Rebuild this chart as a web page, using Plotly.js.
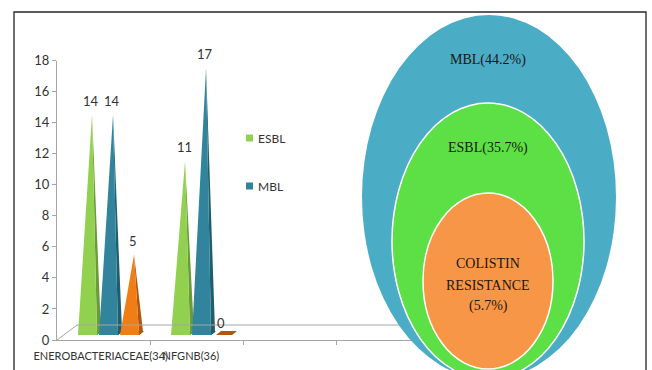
<!DOCTYPE html>
<html>
<head>
<meta charset="utf-8">
<script src="https://cdn.plot.ly/plotly-3.0.1.min.js"></script>
<style>html,body{margin:0;padding:0;background:#fff;}#chart{width:652px;height:370px;}</style>
</head>
<body>
<div id="chart"></div>
<script>
// ---- data ----
const categories = ["ENEROBACTERIACEAE(34)", "NFGNB(36)"];
const esbl = [14, 11];
const mbl = [14, 17];
const colistin = [5, 0];
const seriesNames = ["ESBL", "MBL", "COLISTIN"];
const yTicks = [0, 2, 4, 6, 8, 10, 12, 14, 16, 18];
const vennLabels = ["MBL(44.2%)", "ESBL(35.7%)", "COLISTIN<br>RESISTANCE<br>(5.7%)"];

// ---- styling ----
const W = 652, H = 370;
const X = px => px / W;
const Y = py => 1 - py / H;
const sansFont = "Lato, 'Open Sans', sans-serif";
const lightCol = ["#92D050", "#31849B", "#F07E14"];
const darkCol = ["#6A9B36", "#1F5E6F", "#B2560C"];
const ux = 1 / 93;          // axis units per pixel (x)
const uy = 18 / 279.5;      // axis units per pixel (y)
const slotOffset = [-0.274, -0.048, 0.178];
const base = 5 * uy, depth = 0.5;

const series = [esbl, mbl, colistin];
const traces = [];
const annotations = [];
series.forEach((vals, s) => {
  vals.forEach((v, c) => {
    const xL = c + slotOffset[s];
    const pk = [xL + 14 * ux, v + depth];
    // floor footprint
    traces.push({type: "scatter", mode: "lines", fill: "toself", fillcolor: darkCol[s], line: {width: 0},
      x: [xL + 3 * ux, xL + 19 * ux, xL + 24 * ux, xL + 8 * ux], y: [base, base, base + 4 * uy, base + 4 * uy],
      hoverinfo: "skip", showlegend: false});
    if (v > 0) {
      // side face
      traces.push({type: "scatter", mode: "lines", fill: "toself", fillcolor: darkCol[s], line: {width: 0},
        x: [pk[0], xL + 19 * ux, xL + 23 * ux], y: [pk[1], base, base + 3 * uy],
        hoverinfo: "skip", showlegend: false});
      // front face
      traces.push({type: "scatter", mode: "lines", fill: "toself", fillcolor: lightCol[s], line: {width: 0},
        x: [xL, pk[0], xL + 19 * ux], y: [base, pk[1], base],
        hoverinfo: "skip", showlegend: false});
    }
    // value label
    annotations.push({xref: "x", yref: "y", x: v > 0 ? pk[0] - 1 * ux : xL + 8 * ux, y: v > 0 ? pk[1] : base,
      text: String(v), showarrow: false, xanchor: "center", yanchor: "bottom", yshift: v > 0 ? 4 : 2,
      font: {family: sansFont, size: 13, color: "#333"}});
  });
});
// 3D floor edge
traces.push({type: "scatter", mode: "lines", line: {color: "#A6A6A6", width: 1},
  x: [-0.5, -0.5 + 20 * ux, 3.5], y: [0, 15 * uy, 15 * uy], hoverinfo: "skip", showlegend: false});

const shapes = [
  {type: "rect", xref: "paper", yref: "paper", x0: X(14), x1: X(646), y0: Y(374), y1: Y(12),
    line: {color: "#262626", width: 1.3}, layer: "below"}
];

// legend (key squares + text)
[0, 1].forEach((s, i) => {
  const cy = 138 + 48 * i;
  shapes.push({type: "rect", xref: "paper", yref: "paper", x0: X(246), x1: X(253), y0: Y(cy + 3.5), y1: Y(cy - 3.5),
    fillcolor: lightCol[s], line: {width: 0}, layer: "below"});
  annotations.push({xref: "paper", yref: "paper", x: X(256), y: Y(cy), xanchor: "left", yanchor: "middle",
    showarrow: false, align: "left", text: seriesNames[s],
    font: {family: sansFont, size: 12, color: "#333"}});
});

shapes.push(
  {type: "circle", xref: "paper", yref: "paper", x0: X(362), x1: X(616), y0: Y(379), y1: Y(15),
    fillcolor: "#4BACC6", line: {width: 0}, layer: "above"},
  {type: "circle", xref: "paper", yref: "paper", x0: X(392), x1: X(584), y0: Y(379), y1: Y(103),
    fillcolor: "#5DE045", line: {color: "#ffffff", width: 1.5}, layer: "above"},
  {type: "circle", xref: "paper", yref: "paper", x0: X(423), x1: X(553), y0: Y(369), y1: Y(193),
    fillcolor: "#F79646", line: {color: "#ffffff", width: 1.5}, layer: "above"}
);

const vennFont = {family: "Liberation Serif, serif", size: 14, color: "#1a1612"};
const vennY = [[60], [148], [263, 285, 306]];
vennLabels.forEach((lab, k) => {
  lab.split("<br>").forEach((line, j) => {
    annotations.push({xref: "paper", yref: "paper", x: X(488), y: Y(vennY[k][j]), xanchor: "center", yanchor: "middle",
      text: line, showarrow: false, font: vennFont});
  });
});

const layout = {
  width: W, height: H,
  margin: {l: 0, r: 0, t: 0, b: 0},
  paper_bgcolor: "#ffffff", plot_bgcolor: "rgba(0,0,0,0)",
  showlegend: false,
  xaxis: {domain: [X(57), X(429)], range: [-0.5, 3.5], showgrid: false, zeroline: false,
    showline: true, linecolor: "#A6A6A6", linewidth: 1,
    tickmode: "array", tickvals: [-0.03, 0.94], ticktext: categories, ticks: "", tickangle: 0,
    ticklabelstandoff: 6,
    minor: {tickmode: "array", tickvals: [0.5, 1.5, 2.5], ticks: "outside", ticklen: 4, tickcolor: "#A6A6A6", showgrid: false},
    tickfont: {family: sansFont, size: 11, color: "#333"},
    fixedrange: true},
  yaxis: {domain: [Y(340), Y(60.5)], range: [0, 18], showgrid: false, zeroline: false,
    showline: true, linecolor: "#A6A6A6", linewidth: 1,
    tickmode: "array", tickvals: yTicks, ticks: "outside", ticklen: 4, tickcolor: "#A6A6A6",
    tickfont: {family: sansFont, size: 13, color: "#333"},
    fixedrange: true},
  shapes: shapes,
  annotations: annotations
};

Plotly.newPlot("chart", traces, layout, {displayModeBar: false, staticPlot: true});
</script>
</body>
</html>
